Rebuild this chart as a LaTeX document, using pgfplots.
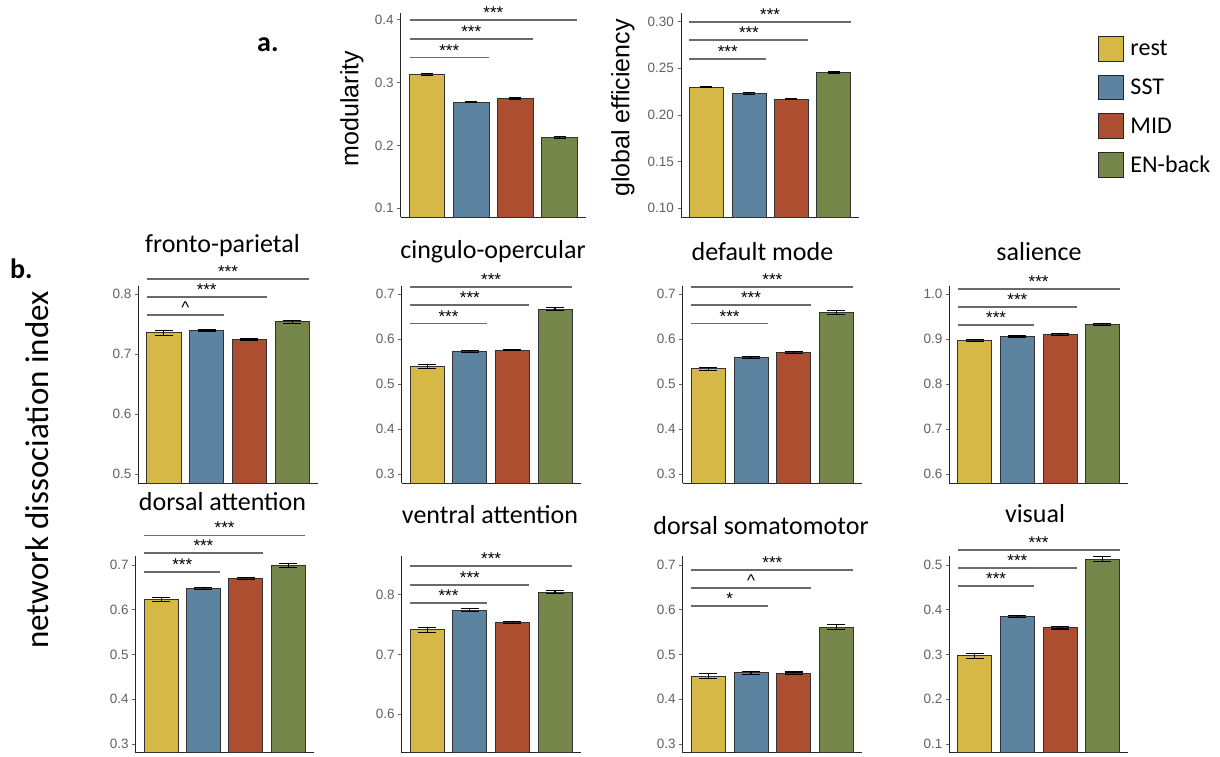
\documentclass[border=0pt]{standalone}
\usepackage{fontspec}
\setmainfont{Liberation Sans}
\newfontfamily\calib{Carlito}
\usepackage{pgfplots}
\pgfplotsset{compat=1.18}
\definecolor{cR}{HTML}{D6B847}
\definecolor{cS}{HTML}{5C83A0}
\definecolor{cM}{HTML}{AC4E2F}
\definecolor{cE}{HTML}{748649}
\definecolor{sigc}{HTML}{6A6A6A}

\pgfplotsset{
 base/.style={scale only axis, anchor=south west, xmin=0.4, xmax=4.6},
 panel/.style={base, axis lines*=left, xtick=\empty,
   axis line style={line width=0.9pt, black!85},
   tick align=outside, major tick length=3.5pt,
   tick style={line width=0.9pt, black!60},
   yticklabel style={font=\fontsize{13.5}{15}\selectfont, text=black!62,
     /pgf/number format/.cd, fixed, fixed zerofill, precision=1, assume math mode=true},
   ylabel style={font=\fontsize{25}{30}\selectfont}},
 sigaxis/.style={base, hide axis, clip=false},
 bar/.style={ybar, bar width=0.8, bar shift=0pt, draw=black!80, line width=0.8pt,
   error bars/y dir=both, error bars/y explicit, error bars/error mark=|,
   error bars/error bar style={line width=1.1pt, black},
   error bars/error mark options={line width=1.1pt, black, mark size=9pt}},
 barT/.style={bar, error bars/error mark options={line width=1.1pt, black, mark size=6pt}},
 sig/.style={sigc, line width=1.7pt, forget plot},
 geoM/.style={at={(400.7pt,-217.3pt)}, width=185.3pt, height=204.3pt, ymin=0.0857, ymax=0.411},
 geoG/.style={at={(681pt,-217.3pt)}, width=178.3pt, height=204.6pt, ymin=0.0904, ymax=0.3096},
 geoFP/.style={at={(138.3pt,-483pt)}, width=179.5pt, height=197pt, ymin=0.4855, ymax=0.8138},
 geoCO/.style={at={(401.7pt,-483pt)}, width=178.8pt, height=197pt, ymin=0.28, ymax=0.7185},
 geoDM/.style={at={(682.7pt,-483pt)}, width=179.3pt, height=197pt, ymin=0.28, ymax=0.7185},
 geoSA/.style={at={(949.3pt,-483pt)}, width=178.7pt, height=197pt, ymin=0.58, ymax=1.0185},
 geoDA/.style={at={(135.7pt,-752.7pt)}, width=177.8pt, height=196.7pt, ymin=0.2806, ymax=0.72},
 geoVA/.style={at={(401.7pt,-752.7pt)}, width=178.8pt, height=196.7pt, ymin=0.536, ymax=0.864},
 geoDS/.style={at={(682.7pt,-752.7pt)}, width=179.3pt, height=196.7pt, ymin=0.2806, ymax=0.72},
 geoVI/.style={at={(949.3pt,-752.7pt)}, width=178.7pt, height=196.7pt, ymin=0.0806, ymax=0.52},
}

% #1 style, then value/error for rest, SST, MID, EN-back
\newcommand\bars[9]{%
\addplot[#1, fill=cR] coordinates {(1,#2) +- (0,#3)};
\addplot[#1, fill=cS] coordinates {(2,#4) +- (0,#5)};
\addplot[#1, fill=cM] coordinates {(3,#6) +- (0,#7)};
\addplot[#1, fill=cE] coordinates {(4,#8) +- (0,#9)};}

\newcommand\sig[3]{\addplot[sig] coordinates {(0.6,#1) (#2,#1)}
  node[pos=0.5, anchor=base, yshift=1.5pt, text=black, inner sep=0pt,
       font=\fontsize{17}{19}\selectfont] {#3};}

\newcommand\ttl[3]{\node[anchor=base, font=\calib\fontsize{26}{30}\selectfont] at (#1pt,-#2pt) {#3};}

\begin{document}
\begin{tikzpicture}
\useasboundingbox (0,0) rectangle (1220pt,-757pt);

% ---------- a. modularity
\begin{axis}[panel, geoM, ytick={0.1,0.2,0.3,0.4}, ylabel={modularity},
  ylabel style={at={(axis description cs:-0.263,0.532)}, anchor=center}]
\bars{barT}{0.313}{0.002}{0.269}{0.001}{0.275}{0.001}{0.213}{0.002}
\end{axis}
\begin{axis}[sigaxis, geoM]
\sig{0.40}{4.4}{***}\sig{0.37}{3.4}{***}\sig{0.34}{2.4}{***}
\end{axis}

% ---------- a. global efficiency
\begin{axis}[panel, geoG, ytick={0.10,0.15,0.20,0.25,0.30}, ylabel={global efficiency},
  yticklabel style={/pgf/number format/precision=2},
  ylabel style={at={(axis description cs:-0.326,0.534)}, anchor=center}]
\bars{barT}{0.230}{0.001}{0.223}{0.0007}{0.217}{0.0007}{0.246}{0.001}
\end{axis}
\begin{axis}[sigaxis, geoG,
  legend style={at={(axis description cs:2.337,0.886)}, anchor=north west, draw=none, fill=none,
    font=\calib\fontsize{24}{28}\selectfont, row sep=13pt, column sep=6pt, inner sep=0pt,
    nodes={inner sep=0pt}, cells={anchor=west}},
  legend image code/.code={\draw[#1, draw=black!85, line width=1pt] (0pt,-12.3pt) rectangle (25.6pt,12.3pt);}]
\sig{0.30}{4.4}{***}\sig{0.28}{3.4}{***}\sig{0.26}{2.4}{***}
\addlegendimage{fill=cR}\addlegendentry{rest}
\addlegendimage{fill=cS}\addlegendentry{SST}
\addlegendimage{fill=cM}\addlegendentry{MID}
\addlegendimage{fill=cE}\addlegendentry{EN-back}
\end{axis}

% ---------- fronto-parietal
\begin{axis}[panel, geoFP, ytick={0.5,0.6,0.7,0.8}]
\bars{bar}{0.736}{0.004}{0.739}{0.0015}{0.724}{0.0015}{0.754}{0.003}
\end{axis}
\begin{axis}[sigaxis, geoFP]
\sig{0.825}{4.4}{***}\sig{0.795}{3.4}{***}\sig{0.765}{2.4}{\textasciicircum}
\end{axis}

% ---------- cingulo-opercular
\begin{axis}[panel, geoCO, ytick={0.3,0.4,0.5,0.6,0.7}]
\bars{bar}{0.539}{0.005}{0.572}{0.002}{0.576}{0.002}{0.667}{0.004}
\end{axis}
\begin{axis}[sigaxis, geoCO]
\sig{0.716}{4.4}{***}\sig{0.676}{3.4}{***}\sig{0.635}{2.4}{***}
\end{axis}

% ---------- default mode
\begin{axis}[panel, geoDM, ytick={0.3,0.4,0.5,0.6,0.7}]
\bars{bar}{0.534}{0.004}{0.559}{0.002}{0.571}{0.002}{0.660}{0.004}
\end{axis}
\begin{axis}[sigaxis, geoDM]
\sig{0.716}{4.4}{***}\sig{0.676}{3.4}{***}\sig{0.635}{2.4}{***}
\end{axis}

% ---------- salience
\begin{axis}[panel, geoSA, ytick={0.6,0.7,0.8,0.9,1.0}]
\bars{bar}{0.897}{0.003}{0.907}{0.002}{0.911}{0.002}{0.933}{0.003}
\end{axis}
\begin{axis}[sigaxis, geoSA]
\sig{1.012}{4.4}{***}\sig{0.972}{3.4}{***}\sig{0.932}{2.4}{***}
\end{axis}

% ---------- dorsal attention
\begin{axis}[panel, geoDA, ytick={0.3,0.4,0.5,0.6,0.7}]
\bars{bar}{0.623}{0.004}{0.648}{0.002}{0.669}{0.002}{0.699}{0.004}
\end{axis}
\begin{axis}[sigaxis, geoDA]
\sig{0.766}{4.4}{***}\sig{0.726}{3.4}{***}\sig{0.685}{2.4}{***}
\end{axis}

% ---------- ventral attention
\begin{axis}[panel, geoVA, ytick={0.6,0.7,0.8}]
\bars{bar}{0.741}{0.004}{0.774}{0.002}{0.753}{0.002}{0.804}{0.003}
\end{axis}
\begin{axis}[sigaxis, geoVA]
\sig{0.847}{4.4}{***}\sig{0.816}{3.4}{***}\sig{0.786}{2.4}{***}
\end{axis}

% ---------- dorsal somatomotor
\begin{axis}[panel, geoDS, ytick={0.3,0.4,0.5,0.6,0.7}]
\bars{bar}{0.452}{0.005}{0.459}{0.003}{0.458}{0.003}{0.561}{0.005}
\end{axis}
\begin{axis}[sigaxis, geoDS]
\sig{0.689}{4.4}{***}\sig{0.6485}{3.4}{\textasciicircum}\sig{0.608}{2.4}{*}
\end{axis}

% ---------- visual
\begin{axis}[panel, geoVI, ytick={0.1,0.2,0.3,0.4,0.5}]
\bars{bar}{0.297}{0.005}{0.385}{0.003}{0.360}{0.003}{0.513}{0.005}
\end{axis}
\begin{axis}[sigaxis, geoVI]
\sig{0.534}{4.4}{***}\sig{0.493}{3.4}{***}\sig{0.453}{2.4}{***}
\end{axis}

% ---------- titles and labels
\ttl{222.5}{252.5}{fronto-parietal}
\ttl{493}{258.5}{cingulo-opercular}
\ttl{762.5}{260.5}{default mode}
\ttl{1039}{260.5}{salience}
\ttl{222.5}{510}{dorsal attention}
\ttl{490}{523.3}{ventral attention}
\ttl{761}{534.3}{dorsal somatomotor}
\ttl{1035}{522.3}{visual}

\node[anchor=base west, font=\calib\bfseries\fontsize{28}{32}\selectfont, inner sep=0pt] at (257pt,-52pt) {a.};
\node[anchor=base west, font=\calib\bfseries\fontsize{28}{32}\selectfont, inner sep=0pt] at (10pt,-278pt) {b.};
\node[rotate=90, font=\calib\fontsize{33}{36}\selectfont] at (37pt,-470pt) {network dissociation index};
\end{tikzpicture}
\end{document}
